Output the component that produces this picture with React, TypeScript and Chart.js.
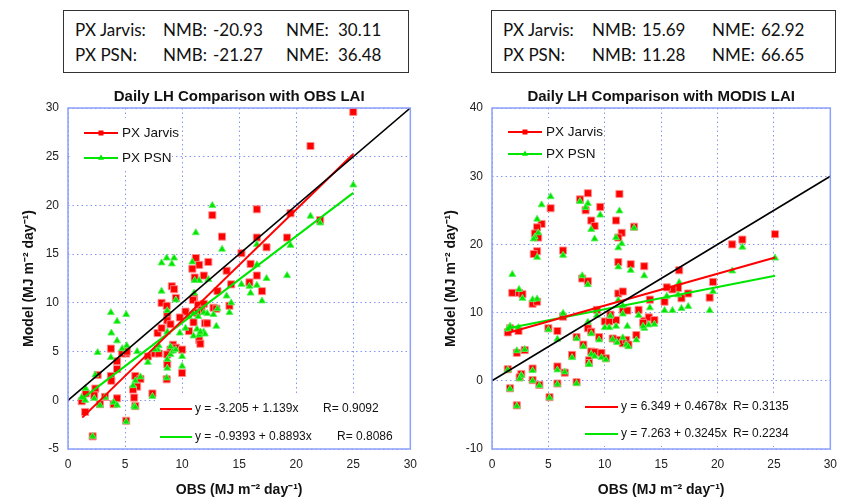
import React, { useEffect, useRef } from "react";
import { Chart, registerables } from "chart.js";

Chart.register(...registerables);

const FONT = "'Liberation Sans', Arial, sans-serif";

// ---------- Left panel: Daily LH Comparison with OBS LAI ----------
const obsLeft = [
  25.0, 21.25, 22.1, 19.5, 19.2, 16.55, 16.55, 16.55, 12.65, 13.5,
  17.4, 15.2, 16.0, 11.2, 11.5, 12.3, 10.9, 11.9, 13.9, 11.1,
  15.9, 14.3, 9.1, 9.3, 13.1, 17.0, 11.05, 9.45, 8.2, 8.65,
  10.95, 11.4, 11.9, 14.15, 12.75, 13.0, 11.7, 10.3, 11.3, 8.7,
  9.8, 8.7, 8.98, 11.0, 12.0, 12.2, 10.6, 11.5, 11.6, 7.85,
  8.2, 9.2, 9.45, 10.0, 8.98, 8.7, 7.0, 7.6, 7.95, 5.1,
  4.75, 3.76, 4.3, 8.7, 10.0, 8.65, 2.6, 5.9, 6.35, 3.76,
  3.8, 6.06, 5.7, 7.4, 1.55, 2.4, 3.24, 2.3, 5.8, 1.2,
  2.8, 4.0, 5.9, 5.1, 2.16, 1.5, 4.3, 4.3, 5.15,
];
const jarvisLeft = [
  29.6, 26.1, 18.5, 19.2, 16.7, 19.6, 16.7, 12.8, 19.0, 16.8,
  15.7, 15.1, 14.0, 14.6, 13.9, 14.2, 13.5, 12.8, 13.3, 12.6,
  12.1, 11.9, 11.7, 11.4, 11.2, 11.2, 10.5, 10.5, 10.0, 9.7,
  10.3, 9.8, 9.9, 9.7, 9.5, 9.4, 9.3, 9.1, 9.0, 8.8,
  8.5, 8.2, 7.8, 8.0, 7.9, 7.9, 7.1, 6.2, 5.8, 6.9,
  7.4, 5.7, 5.4, 5.2, 5.2, 4.7, 4.5, 4.8, 4.8, 4.8,
  4.8, 5.3, 3.2, 3.7, 2.8, 2.15, 2.6, 2.5, 2.2, 2.5,
  2.0, 1.4, 1.1, 0.7, 0.7, 1.2, 0.35, 0.5, 0.27, -0.1,
  -0.4, -0.4, -0.6, -2.1, -3.7, -1.2, 0.2, 4.0, 5.0,
];
const psnLeft = [
  22.1, 18.9, 18.2, 15.9, 12.8, 16.0, 11.8, 13.9, 20.0, 15.5,
  12.5, 11.9, 11.0, 17.2, 12.3, 12.4, 14.2, 9.0, 10.7, 12.3,
  11.7, 10.0, 14.0, 14.6, 9.4, 10.2, 11.0, 10.3, 14.1, 14.6,
  9.0, 8.6, 7.0, 9.0, 8.8, 7.6, 6.9, 7.4, 7.3, 9.2,
  6.9, 7.0, 4.7, 6.6, 6.8, 8.9, 8.6, 6.7, 7.0, 5.2,
  11.2, 5.05, 5.2, 4.5, 5.5, 3.3, 3.9, 5.2, 5.6, 8.8,
  5.3, 9.0, 8.1, 4.2, 3.5, 2.3, 4.9, 2.0, 2.4, 4.4,
  6.9, 5.0, 1.5, 0.4, 1.2, 2.6, 0.3, 0.2, -0.6, 0.3,
  -0.5, -0.2, -0.7, -2.2, -3.7, 0.0, -0.5, 6.1, 5.6,
];
const fitJarvisLeftX = [1.25, 25];
const fitJarvisLeftY = [-1.78, 25.27];
const fitPsnLeftX = [1.25, 25];
const fitPsnLeftY = [0.17, 21.29];
const eqLeft = ["y = -3.205 + 1.139x", "y = -0.9393 + 0.8893x"];
const rLeft = ["R= 0.9092", "R= 0.8086"];

// ---------- Right panel: Daily LH Comparison with MODIS LAI ----------
const obsRight = [
  25.1, 22.2, 21.3, 19.6, 19.3, 16.6, 16.5, 16.0, 17.4, 16.8,
  15.3, 15.5, 14.0, 13.5, 12.6, 12.3, 11.3, 11.0, 11.5, 11.2,
  11.2, 9.6, 8.5, 7.8, 8.3, 8.8, 9.1, 8.0, 8.5, 6.3,
  5.2, 4.4, 4.0, 3.8, 4.1, 4.0, 3.7, 1.8, 2.4, 2.7,
  3.6, 4.0, 1.4, 1.6, 2.35, 6.3, 5.0, 5.8, 7.5, 8.1,
  8.5, 8.8, 9.5, 10.0, 10.4, 11.0, 11.1, 10.7, 11.6, 11.9,
  12.1, 11.6, 12.0, 13.0, 12.8, 13.5, 13.9, 14.4, 13.4, 9.3,
  11.2, 11.6, 10.5, 8.8, 9.1, 9.7, 10.1, 8.6, 8.6, 7.1,
  5.8, 5.8, 6.45, 7.5, 5.1, 2.6, 2.2, 2.45, 1.4, 3.6,
  3.6, 4.2, 1.6, 2.2, 2.9,
];
const jarvisRight = [
  21.5, 20.7, 20.0, 14.5, 12.2, 16.2, 13.6, 13.4, 12.8, 12.1,
  11.6, 13.7, 11.9, 16.8, 22.6, 17.1, 27.4, 23.5, 21.7, 21.0,
  17.4, 25.5, 27.5, 26.6, 25.0, 23.5, 22.7, 15.0, 14.6, 19.1,
  25.3, 23.0, 22.5, 21.6, 21.0, 19.0, 18.6, 12.9, 12.9, 12.7,
  11.3, 11.6, 7.1, 7.7, 7.3, 9.4, 7.7, 7.3, 6.4, 5.3,
  7.7, 7.2, 6.4, 8.7, 8.7, 8.9, 6.0, 6.2, 5.5, 6.0,
  5.3, 10.4, 10.3, 10.4, 6.7, 8.8, 9.3, 8.9, 8.5, 10.4,
  12.8, 13.1, 9.7, 4.3, 4.2, 4.1, 3.3, 3.0, 2.6, 3.8,
  2.1, -0.4, 1.2, -0.2, -2.4, 1.0, 4.1, 0.5, 1.7, 1.8,
  0.1, -0.6, -1.1, -3.6, 4.5,
];
const psnRight = [
  18.0, 19.6, 16.1, 13.1, 10.3, 14.4, 12.6, 10.3, 10.9, 10.6,
  10.3, 12.4, 10.7, 15.4, 22.4, 16.2, 24.9, 21.0, 20.1, 19.5,
  16.7, 24.3, 26.0, 26.3, 25.4, 22.2, 20.8, 15.4, 14.1, 18.4,
  27.0, 25.8, 23.7, 21.1, 21.7, 18.1, 20.8, 15.6, 13.4, 12.1,
  11.9, 12.0, 7.6, 8.0, 7.8, 9.9, 7.5, 6.1, 6.2, 5.0,
  8.6, 6.9, 6.0, 7.8, 7.8, 8.0, 5.6, 6.1, 6.3, 5.3,
  5.0, 9.8, 8.0, 9.6, 6.0, 7.7, 8.2, 8.3, 8.0, 9.6,
  11.8, 11.0, 9.5, 3.9, 3.6, 3.4, 3.1, 2.5, 2.4, 3.4,
  1.6, -0.5, 1.3, -0.4, -2.5, 0.8, 4.4, 0.3, 1.6, 1.5,
  0.0, -0.7, -1.2, -3.7, 4.6,
];
const fitJarvisRightX = [1.3, 25.1];
const fitJarvisRightY = [6.96, 18.09];
const fitPsnRightX = [1.3, 25.1];
const fitPsnRightY = [7.68, 15.41];
const eqRight = ["y = 6.349 + 0.4678x", "y = 7.263 + 0.3245x"];
const rRight = ["R= 0.3135", "R= 0.2234"];

// 1:1 line
const oneToOneX = [0, 30];
const oneToOneY = [0, 30];

// Statistics boxes
const statLabels = ["PX Jarvis:", "PX PSN:"];
const nmbLeft = ["-20.93", "-21.27"];
const nmeLeft = ["30.11", "36.48"];
const nmbRight = ["15.69", "11.28"];
const nmeRight = ["62.92", "66.65"];

const seriesNames = ["PX Jarvis", "PX PSN"];
const RED = "#ff0000";
const GREEN = "#00e600";
const GRID = "rgba(110,130,240,0.85)";
const FRAME = "rgb(140,160,250)";

const pts = (xs: number[], ys: number[]) => xs.map((x, i) => ({ x, y: ys[i] }));

function drawSquare(ctx: CanvasRenderingContext2D, x: number, y: number, s: number) {
  ctx.fillStyle = RED;
  ctx.fillRect(x - s / 2, y - s / 2, s, s);
}
function drawTri(ctx: CanvasRenderingContext2D, x: number, y: number, r: number) {
  ctx.fillStyle = GREEN;
  ctx.beginPath();
  ctx.moveTo(x, y - r);
  ctx.lineTo(x + r * 0.866, y + r * 0.5);
  ctx.lineTo(x - r * 0.866, y + r * 0.5);
  ctx.closePath();
  ctx.fill();
}

const decoPlugin = {
  id: "deco",
  beforeDatasetsDraw(chart: any, _a: any, o: any) {
    const { ctx, chartArea: a } = chart;
    ctx.save();
    ctx.fillStyle = "#fff";
    const lb = o.legendBox;
    ctx.fillRect(a.left + lb[0], a.top + lb[1], lb[2] - lb[0], lb[3] - lb[1]);
    const eb = o.eqBox;
    ctx.fillRect(a.left + eb[0], a.top + eb[1], eb[2] - eb[0], eb[3] - eb[1]);
    ctx.restore();
  },
  afterDraw(chart: any, _a: any, o: any) {
    const { ctx, chartArea: a } = chart;
    ctx.save();
    // frame
    ctx.strokeStyle = FRAME;
    ctx.lineWidth = 1.5;
    ctx.strokeRect(a.left, a.top, a.right - a.left, a.bottom - a.top);
    // title
    ctx.fillStyle = "#111";
    ctx.font = `bold 15px ${FONT}`;
    ctx.textAlign = "center";
    ctx.textBaseline = "middle";
    ctx.fillText(o.title, (a.left + a.right) / 2, a.top - 11);
    // legend (top-left)
    ctx.textAlign = "left";
    ctx.font = `13.5px ${FONT}`;
    const colors = [RED, GREEN];
    o.legendRows.forEach((ry: number, i: number) => {
      const y = a.top + ry;
      const x0 = a.left + o.legendLine[0];
      const x1 = a.left + o.legendLine[1];
      ctx.strokeStyle = colors[i];
      ctx.lineWidth = 2;
      ctx.beginPath();
      ctx.moveTo(x0, y);
      ctx.lineTo(x1, y);
      ctx.stroke();
      if (i === 0) drawSquare(ctx, (x0 + x1) / 2, y, 5);
      else drawTri(ctx, (x0 + x1) / 2, y, 3.5);
      ctx.fillStyle = "#111";
      ctx.fillText(seriesNames[i], a.left + o.legendText, y);
    });
    // equation legend (bottom-right)
    ctx.font = `12px ${FONT}`;
    o.eqRows.forEach((ry: number, i: number) => {
      const y = a.top + ry;
      ctx.strokeStyle = colors[i];
      ctx.lineWidth = 2;
      ctx.beginPath();
      ctx.moveTo(a.left + o.eqLine[0], y);
      ctx.lineTo(a.left + o.eqLine[1], y);
      ctx.stroke();
      ctx.fillStyle = "#111";
      ctx.fillText(o.eqs[i], a.left + o.eqText, y);
      ctx.fillText(o.rs[i], a.left + o.rX[i], y);
    });
    ctx.restore();
  },
};

function makeConfig(p: any) {
  const tickFont = { family: FONT, size: 12 };
  const titleFont = { family: FONT, size: 14, weight: "bold" as const };
  return {
    type: "scatter" as const,
    data: {
      datasets: [
        {
          data: pts(oneToOneX, oneToOneY),
          showLine: true,
          borderColor: "#000",
          borderWidth: 1.6,
          pointRadius: 0,
        },
        {
          data: pts(p.fjx, p.fjy),
          showLine: true,
          borderColor: RED,
          borderWidth: 2,
          pointRadius: 0,
        },
        {
          data: pts(p.fpx, p.fpy),
          showLine: true,
          borderColor: GREEN,
          borderWidth: 2,
          pointRadius: 0,
        },
        {
          data: pts(p.xs, p.ps),
          pointStyle: "triangle",
          pointRadius: 4,
          backgroundColor: GREEN,
          borderColor: "rgba(90,240,90,0.9)",
          borderWidth: 1,
        },
        {
          data: pts(p.xs, p.js),
          pointStyle: "rect",
          pointRadius: 5,
          backgroundColor: RED,
          borderColor: "rgba(255,140,140,0.9)",
          borderWidth: 1,
        },
      ],
    },
    options: {
      responsive: false,
      animation: false,
      events: [],
      layout: { padding: { left: 0, top: 28, right: p.rightPad, bottom: 0 } },
      plugins: {
        legend: { display: false },
        tooltip: { enabled: false },
        title: { display: false },
        deco: p.deco,
      },
      scales: {
        x: {
          type: "linear",
          min: 0,
          max: 30,
          ticks: { stepSize: 5, color: "#222", font: tickFont, padding: 8, maxRotation: 0 },
          grid: { color: GRID, lineWidth: 1, drawTicks: false },
          border: { display: false, dash: [1.5, 3] },
          title: {
            display: true,
            text: "OBS (MJ m\u207B\u00B2 day\u207B\u00B9)",
            color: "#111",
            font: titleFont,
            padding: { top: 0, bottom: 0 },
          },
          afterFit: (s: any) => {
            s.height = 50;
          },
        },
        y: {
          type: "linear",
          min: p.yMin,
          max: p.yMax,
          ticks: { stepSize: p.yStep, color: "#222", font: tickFont, padding: 9 },
          grid: { color: GRID, lineWidth: 1, drawTicks: false },
          border: { display: false, dash: [1.5, 3] },
          title: {
            display: true,
            text: "Model (MJ m\u207B\u00B2 day\u207B\u00B9)",
            color: "#111",
            font: titleFont,
            padding: { top: p.yTitlePad, bottom: 0 },
          },
          afterFit: (s: any) => {
            s.width = p.yWidth;
          },
        },
      },
    },
    plugins: [decoPlugin],
  };
}

const leftCfg = {
  xs: obsLeft, js: jarvisLeft, ps: psnLeft,
  fjx: fitJarvisLeftX, fjy: fitJarvisLeftY, fpx: fitPsnLeftX, fpy: fitPsnLeftY,
  yMin: -5, yMax: 30, yStep: 5, yWidth: 68, rightPad: 13, yTitlePad: 21,
  deco: {
    title: "Daily LH Comparison with OBS LAI",
    legendBox: [4, 10, 104, 62],
    legendLine: [16, 50],
    legendText: 54,
    legendRows: [25, 50],
    eqBox: [88, 288, 340, 340],
    eqLine: [92, 124],
    eqText: 127,
    eqRows: [301, 329],
    eqs: eqLeft,
    rs: rLeft,
    rX: [255, 269],
  },
};

const rightCfg = {
  xs: obsRight, js: jarvisRight, ps: psnRight,
  fjx: fitJarvisRightX, fjy: fitJarvisRightY, fpx: fitPsnRightX, fpy: fitPsnRightY,
  yMin: -10, yMax: 40, yStep: 10, yWidth: 67, rightPad: 9, yTitlePad: 18,
  deco: {
    title: "Daily LH Comparison with MODIS LAI",
    legendBox: [4, 10, 104, 58],
    legendLine: [16, 50],
    legendText: 54,
    legendRows: [24, 46],
    eqBox: [88, 286, 338, 338],
    eqLine: [93, 126],
    eqText: 129,
    eqRows: [299, 326],
    eqs: eqRight,
    rs: rRight,
    rX: [241, 241],
  },
};

function StatBox({ left, width, nmb, nme, cols }: any) {
  const txt: React.CSSProperties = {
    position: "absolute",
    fontFamily: "Lato, 'Open Sans', sans-serif",
    fontSize: 17,
    lineHeight: "22px",
    color: "#111",
    whiteSpace: "nowrap",
  };
  return (
    <div
      style={{
        position: "absolute",
        left,
        top: 10,
        width,
        height: 63,
        boxSizing: "border-box",
        border: "1.5px solid #333",
        background: "#fff",
      }}
    >
      {statLabels.map((lab: string, i: number) => (
        <React.Fragment key={i}>
          <span style={{ ...txt, left: cols[0], top: 8 + i * 25 }}>{lab}</span>
          <span style={{ ...txt, left: cols[1], top: 8 + i * 25 }}>NMB:</span>
          <span style={{ ...txt, left: cols[2], top: 8 + i * 25 }}>{nmb[i]}</span>
          <span style={{ ...txt, left: cols[3], top: 8 + i * 25 }}>NME:</span>
          <span style={{ ...txt, left: cols[4], top: 8 + i * 25 }}>{nme[i]}</span>
        </React.Fragment>
      ))}
    </div>
  );
}

export default function App() {
  const leftRef = useRef<HTMLCanvasElement>(null);
  const rightRef = useRef<HTMLCanvasElement>(null);

  useEffect(() => {
    const c1 = new Chart(leftRef.current as HTMLCanvasElement, makeConfig(leftCfg) as any);
    const c2 = new Chart(rightRef.current as HTMLCanvasElement, makeConfig(rightCfg) as any);
    return () => {
      c1.destroy();
      c2.destroy();
    };
  }, []);

  return (
    <div
      style={{
        position: "fixed",
        left: 0,
        top: 0,
        width: 845,
        height: 499,
        background: "#fff",
        overflow: "hidden",
      }}
    >
      <StatBox left={63} width={346} nmb={nmbLeft} nme={nmeLeft} cols={[11, 99, 149, 222, 274]} />
      <StatBox left={491} width={345} nmb={nmbRight} nme={nmeRight} cols={[11, 100, 150, 220, 269]} />
      <canvas
        ref={leftRef}
        width={425}
        height={419}
        style={{ position: "absolute", left: 0, top: 80, width: 425, height: 419 }}
      />
      <canvas
        ref={rightRef}
        width={420}
        height={419}
        style={{ position: "absolute", left: 425, top: 80, width: 420, height: 419 }}
      />
    </div>
  );
}
